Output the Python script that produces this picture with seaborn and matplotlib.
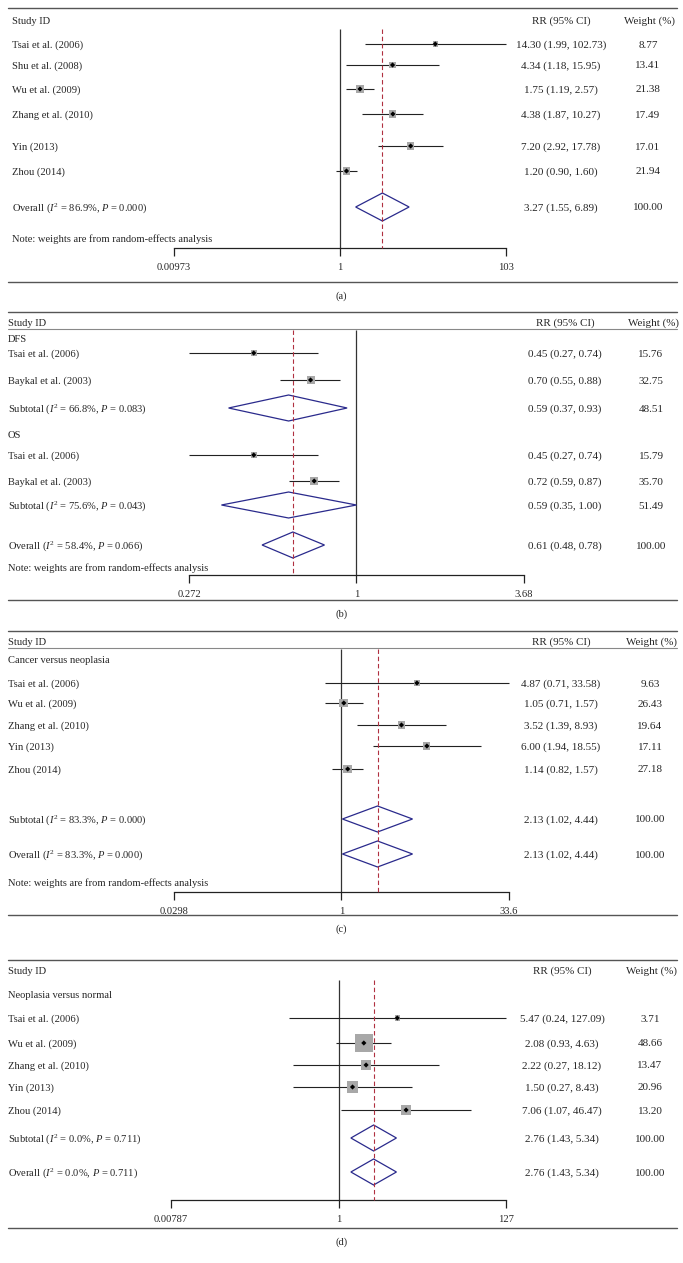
import numpy as np
import pandas as pd
import matplotlib
matplotlib.use("Agg")
import matplotlib.pyplot as plt
import matplotlib.transforms as mtransforms
from matplotlib.ticker import NullLocator
import seaborn as sns

W, H = 683, 1263

# ---------------- data ----------------
# (a)
a_studies = ["Tsai et al. (2006)", "Shu et al. (2008)", "Wu et al. (2009)",
             "Zhang et al. (2010)", "Yin (2013)", "Zhou (2014)"]
a_rr = [14.30, 4.34, 1.75, 4.38, 7.20, 1.20]
a_lo = [1.99, 1.18, 1.19, 1.87, 2.92, 0.90]
a_hi = [102.73, 15.95, 2.57, 10.27, 17.78, 1.60]
a_w = [8.77, 13.41, 21.38, 17.49, 17.01, 21.94]
a_pool_lab = ["Overall"]
a_pool_rr = [3.27]
a_pool_lo = [1.55]
a_pool_hi = [6.89]
a_pool_w = [100.00]
a_pool_i2 = [86.9]
a_pool_p = [0.000]
a_ticks = [0.00973, 1, 103]
a_ticklabels = ["0.00973", "1", "103"]

# (b)
b_groups = ["DFS", "OS"]
b_studies = ["Tsai et al. (2006)", "Baykal et al. (2003)",
             "Tsai et al. (2006)", "Baykal et al. (2003)"]
b_rr = [0.45, 0.70, 0.45, 0.72]
b_lo = [0.27, 0.55, 0.27, 0.59]
b_hi = [0.74, 0.88, 0.74, 0.87]
b_w = [15.76, 32.75, 15.79, 35.70]
b_pool_lab = ["Subtotal", "Subtotal", "Overall"]
b_pool_rr = [0.59, 0.59, 0.61]
b_pool_lo = [0.37, 0.35, 0.48]
b_pool_hi = [0.93, 1.00, 0.78]
b_pool_w = [48.51, 51.49, 100.00]
b_pool_i2 = [66.8, 75.6, 58.4]
b_pool_p = [0.083, 0.043, 0.066]
b_ticks = [0.272, 1, 3.68]
b_ticklabels = ["0.272", "1", "3.68"]

# (c)
c_groups = ["Cancer versus neoplasia"]
c_studies = ["Tsai et al. (2006)", "Wu et al. (2009)", "Zhang et al. (2010)",
             "Yin (2013)", "Zhou (2014)"]
c_rr = [4.87, 1.05, 3.52, 6.00, 1.14]
c_lo = [0.71, 0.71, 1.39, 1.94, 0.82]
c_hi = [33.58, 1.57, 8.93, 18.55, 1.57]
c_w = [9.63, 26.43, 19.64, 17.11, 27.18]
c_pool_lab = ["Subtotal", "Overall"]
c_pool_rr = [2.13, 2.13]
c_pool_lo = [1.02, 1.02]
c_pool_hi = [4.44, 4.44]
c_pool_w = [100.00, 100.00]
c_pool_i2 = [83.3, 83.3]
c_pool_p = [0.000, 0.000]
c_ticks = [0.0298, 1, 33.6]
c_ticklabels = ["0.0298", "1", "33.6"]

# (d)
d_groups = ["Neoplasia versus normal"]
d_studies = ["Tsai et al. (2006)", "Wu et al. (2009)", "Zhang et al. (2010)",
             "Yin (2013)", "Zhou (2014)"]
d_rr = [5.47, 2.08, 2.22, 1.50, 7.06]
d_lo = [0.24, 0.93, 0.27, 0.27, 1.07]
d_hi = [127.09, 4.63, 18.12, 8.43, 46.47]
d_w = [3.71, 48.66, 13.47, 20.96, 13.20]
d_pool_lab = ["Subtotal", "Overall"]
d_pool_rr = [2.76, 2.76]
d_pool_lo = [1.43, 1.43]
d_pool_hi = [5.34, 5.34]
d_pool_w = [100.00, 100.00]
d_pool_i2 = [0.0, 0.0]
d_pool_p = [0.711, 0.711]
d_ticks = [0.00787, 1, 127]
d_ticklabels = ["0.00787", "1", "127"]

NOTE = "Note: weights are from random-effects analysis"

# ---------------- style ----------------
sns.set_theme(style="white")
plt.rcParams['font.family'] = ['Liberation Serif', 'DejaVu Serif']
plt.rcParams['mathtext.fontset'] = 'custom'
plt.rcParams['mathtext.rm'] = 'Liberation Serif'
plt.rcParams['mathtext.it'] = 'Liberation Serif:italic'
FS = 7.6      # study labels
FS_HDR = 7.9  # column headers
FS_NUM = 8.0  # numeric columns
BASE = 3.5    # px from row centre down to text baseline
NAVY = '#2a2a8c'
RED = '#b03040'
GREY = '#a8a8a8'

fig = plt.figure(figsize=(W / 100, H / 100), dpi=100)


def draw_panel(top, bot, caption, studies, rr, lo, hi, w,
               pool_lab, pool_rr, pool_lo, pool_hi, pool_w, pool_i2, pool_p,
               ticks, ticklabels, groups, lay):
    ax = fig.add_axes([0, 1 - bot / H, 1, (bot - top) / H])
    ax.set_facecolor('none')
    ax.set_xscale('log')
    # map axis ticks onto their pixel positions
    lpx, rpx = lay['tick_px']
    k = (rpx - lpx) / (np.log10(ticks[-1]) - np.log10(ticks[0]))
    ax.set_xlim(10 ** (np.log10(ticks[0]) - lpx / k),
                10 ** (np.log10(ticks[-1]) + (W - rpx) / k))
    ax.set_ylim(bot, top)
    tr = mtransforms.blended_transform_factory(ax.transAxes, ax.transData)

    def fx(px):
        return px / W

    tx = fx(lay['text_x'])
    rx = fx(lay['rr_x'])
    wx = fx(lay['w_x'])

    def put(x, y, s, size, ha):
        ax.text(x, y + BASE, s, transform=tr, fontsize=size, va='baseline', ha=ha)

    # rules
    ax.axhline(top, xmin=fx(8), xmax=fx(677), color='#555555', lw=1.0, clip_on=False)
    ax.axhline(bot, xmin=fx(8), xmax=fx(677), color='#555555', lw=1.0, clip_on=False)
    if lay.get('hdr_rule'):
        ax.axhline(lay['hdr_rule'], xmin=fx(8), xmax=fx(677), color='#888888', lw=0.8)

    # header
    hy = lay['hdr_y']
    put(tx, hy, "Study ID", FS, 'left')
    put(rx, hy, "RR (95% CI)", FS_HDR, 'center')
    put(wx + fx(2), hy, "Weight (%)", FS_HDR, 'center')

    for g, gy in zip(groups, lay.get('group_y', [])):
        put(tx, gy, g, FS, 'left')

    axis_y = lay['axis_y']
    # reference lines
    ax.vlines(1, lay['vline_top'], axis_y, color='#333333', lw=0.9, zorder=1)
    ax.vlines(pool_rr[-1], lay['vline_top'], axis_y, color=RED, lw=0.8,
              linestyles=(0, (4, 2.5)), zorder=5)

    # studies
    sy = lay['study_y']
    lo_c = np.clip(lo, ticks[0], ticks[-1])
    hi_c = np.clip(hi, ticks[0], ticks[-1])
    ax.hlines(sy, lo_c, hi_c, color='#222222', lw=0.8, zorder=2)
    df = pd.DataFrame({'rr': rr, 'y': sy, 'w': w})
    f = lay['box']
    sns.scatterplot(data=df, x='rr', y='y', size='w', sizes=(0, f * f * 0.5184 * 100),
                    size_norm=(0, 100), marker='s', color=GREY, edgecolor='none',
                    legend=False, ax=ax, zorder=3)
    sns.scatterplot(data=df, x='rr', y='y', marker='D', s=7, color='black',
                    edgecolor='none', legend=False, ax=ax, zorder=4)
    for lab, y, a, b, c, ww in zip(studies, sy, rr, lo, hi, w):
        put(tx, y, lab, FS, 'left')
        put(rx, y, f"{a:.2f} ({b:.2f}, {c:.2f})", FS_NUM, 'center')
        put(wx, y, f"{ww:.2f}", FS_NUM, 'center')

    # pooled estimates
    h = lay['dia_h']
    for lab, y, a, b, c, ww, i2, p in zip(pool_lab, lay['pool_y'], pool_rr, pool_lo,
                                          pool_hi, pool_w, pool_i2, pool_p):
        ax.fill([b, a, c, a], [y, y - h, y, y + h], facecolor='none',
                edgecolor=NAVY, lw=0.9, zorder=4)
        put(tx, y, f"{lab} ($I^2$ = {i2:.1f}%, $P$ = {p:.3f})", FS, 'left')
        put(rx, y, f"{a:.2f} ({b:.2f}, {c:.2f})", FS_NUM, 'center')
        put(wx, y, f"{ww:.2f}", FS_NUM, 'center')

    if lay.get('note_y'):
        put(tx, lay['note_y'], NOTE, FS, 'left')

    # x axis
    for s in ['left', 'right', 'top']:
        ax.spines[s].set_visible(False)
    ax.spines['bottom'].set_position(('data', axis_y))
    ax.spines['bottom'].set_bounds(ticks[0], ticks[-1])
    ax.spines['bottom'].set_color('#222222')
    ax.spines['bottom'].set_linewidth(0.9)
    ax.set_xticks(ticks, labels=ticklabels)
    ax.xaxis.set_minor_locator(NullLocator())
    ax.tick_params(axis='x', direction='out', length=5.5, width=0.9, color='#222222',
                   labelsize=FS, pad=5, bottom=True)
    ax.set_yticks([])
    ax.set_xlabel('')
    ax.set_ylabel('')

    ax.text(0.5, bot + 14, caption, transform=tr, fontsize=FS, va='center',
            ha='center', clip_on=False)
    return ax


draw_panel(8, 282, "(a)", a_studies, a_rr, a_lo, a_hi, a_w,
           a_pool_lab, a_pool_rr, a_pool_lo, a_pool_hi, a_pool_w, a_pool_i2, a_pool_p,
           a_ticks, a_ticklabels, [],
           dict(tick_px=(174, 506), hdr_y=20, study_y=[44, 65, 89, 114, 146, 171],
                pool_y=[207], note_y=238, axis_y=248, vline_top=29, text_x=12,
                rr_x=561, w_x=648, dia_h=14, box=1.7))

draw_panel(312, 600, "(b)", b_studies, b_rr, b_lo, b_hi, b_w,
           b_pool_lab, b_pool_rr, b_pool_lo, b_pool_hi, b_pool_w, b_pool_i2, b_pool_p,
           b_ticks, b_ticklabels, b_groups,
           dict(tick_px=(189, 524), hdr_y=322, hdr_rule=329, group_y=[338, 434],
                study_y=[353, 380, 455, 481], pool_y=[408, 505, 545], note_y=567,
                axis_y=575, vline_top=330, text_x=8, rr_x=565, w_x=651, dia_h=13,
                box=1.4))

draw_panel(631, 915, "(c)", c_studies, c_rr, c_lo, c_hi, c_w,
           c_pool_lab, c_pool_rr, c_pool_lo, c_pool_hi, c_pool_w, c_pool_i2, c_pool_p,
           c_ticks, c_ticklabels, c_groups,
           dict(tick_px=(174, 509), hdr_y=641, hdr_rule=648, group_y=[659],
                study_y=[683, 703, 725, 746, 769], pool_y=[819, 854], note_y=883,
                axis_y=892, vline_top=649, text_x=8, rr_x=561, w_x=650, dia_h=13,
                box=1.7))

draw_panel(960, 1228, "(d)", d_studies, d_rr, d_lo, d_hi, d_w,
           d_pool_lab, d_pool_rr, d_pool_lo, d_pool_hi, d_pool_w, d_pool_i2, d_pool_p,
           d_ticks, d_ticklabels, d_groups,
           dict(tick_px=(171, 506), hdr_y=970, group_y=[995],
                study_y=[1018, 1043, 1065, 1087, 1110], pool_y=[1138, 1172],
                axis_y=1200, vline_top=980, text_x=8, rr_x=562, w_x=650, dia_h=13,
                box=2.6))

fig.savefig("out.png", dpi=100)
